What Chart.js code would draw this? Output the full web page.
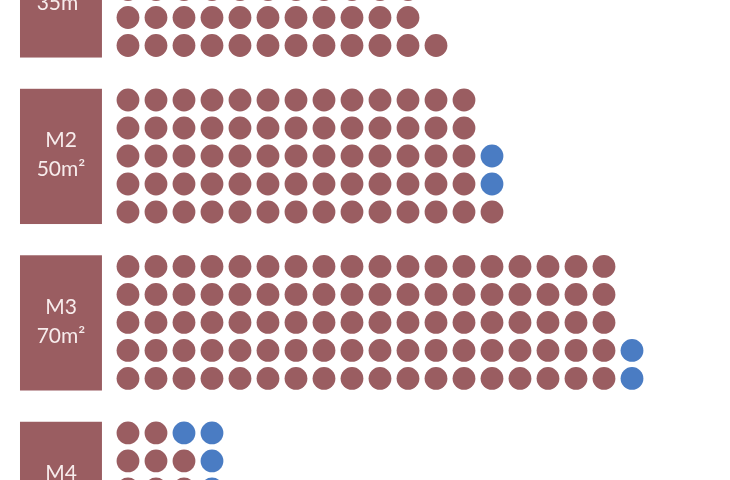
<!DOCTYPE html>
<html>
<head>
<meta charset="utf-8">
<script src="https://cdn.jsdelivr.net/npm/chart.js@4.4.1/dist/chart.umd.min.js"></script>
<style>
html,body{margin:0;padding:0;background:#ffffff;overflow:hidden;}
#c{display:block;}
</style>
</head>
<body>
<canvas id="c" width="730" height="480"></canvas>
<script>
// ---- data ----
const groupNames = ['M1', 'M2', 'M3', 'M4'];
const groupAreas = ['35m²', '50m²', '70m²', '90m²'];
// dots per row (top to bottom), first series (brown)
const brownM1 = [11, 11, 11, 11, 12];
const brownM2 = [13, 13, 13, 13, 14];
const brownM3 = [18, 18, 18, 18, 18];
const brownM4 = [2, 3, 3, 3, 3];
// second series (blue), appended after the brown dots in each row
const blueM1 = [0, 0, 0, 0, 0];
const blueM2 = [0, 0, 1, 1, 0];
const blueM3 = [0, 0, 0, 1, 1];
const blueM4 = [2, 1, 1, 1, 1];

const brownRows = [brownM1, brownM2, brownM3, brownM4];
const blueRows = [blueM1, blueM2, blueM3, blueM4];

// ---- layout constants ----
const GROUP_PITCH = 5.946; // rows per group step
const BROWN = '#9a5d61';
const BLUE = '#4a7cc3';

const brownPts = [], bluePts = [];
brownRows.forEach((rows, g) => {
  rows.forEach((n, r) => {
    const y = g * GROUP_PITCH + r;
    for (let c = 0; c < n; c++) brownPts.push({x: c, y: y});
    const b = blueRows[g][r];
    for (let k = 0; k < b; k++) bluePts.push({x: n + k, y: y});
  });
});

const boxPlugin = {
  id: 'boxes',
  beforeDatasetsDraw(chart) {
    const ctx = chart.ctx, xs = chart.scales.x, ys = chart.scales.y;
    ctx.save();
    groupNames.forEach((name, g) => {
      const base = g * GROUP_PITCH;
      const x0 = xs.getPixelForValue(-3.857), x1 = xs.getPixelForValue(-0.93);
      const y0 = ys.getPixelForValue(base - 0.4), y1 = ys.getPixelForValue(base + 4.43);
      ctx.fillStyle = BROWN;
      ctx.fillRect(x0, y0, x1 - x0, y1 - y0);
      const cx = (x0 + x1) / 2, cy = (y0 + y1) / 2;
      ctx.fillStyle = '#f7ecec';
      ctx.font = '21px Lato';
      ctx.textAlign = 'center';
      ctx.textBaseline = 'middle';
      ctx.fillText(name, cx, cy - 16);
      ctx.fillText(groupAreas[g], cx, cy + 13);
    });
    ctx.restore();
  }
};

new Chart(document.getElementById('c'), {
  type: 'scatter',
  data: {
    datasets: [
      {label: 'A', data: brownPts, backgroundColor: BROWN, borderWidth: 0, pointRadius: 11.4, pointHoverRadius: 11.4, clip: false},
      {label: 'B', data: bluePts, backgroundColor: BLUE, borderWidth: 0, pointRadius: 11.4, pointHoverRadius: 11.4, clip: false}
    ]
  },
  options: {
    responsive: false,
    animation: false,
    devicePixelRatio: 1,
    layout: {padding: 0, autoPadding: false},
    plugins: {legend: {display: false}, tooltip: {enabled: false}},
    events: [],
    scales: {
      x: {type: 'linear', display: false, min: -4.571, max: 21.5},
      y: {type: 'linear', display: false, reverse: true, min: 2.375, max: 19.518}
    }
  },
  plugins: [boxPlugin]
});
</script>
</body>
</html>
